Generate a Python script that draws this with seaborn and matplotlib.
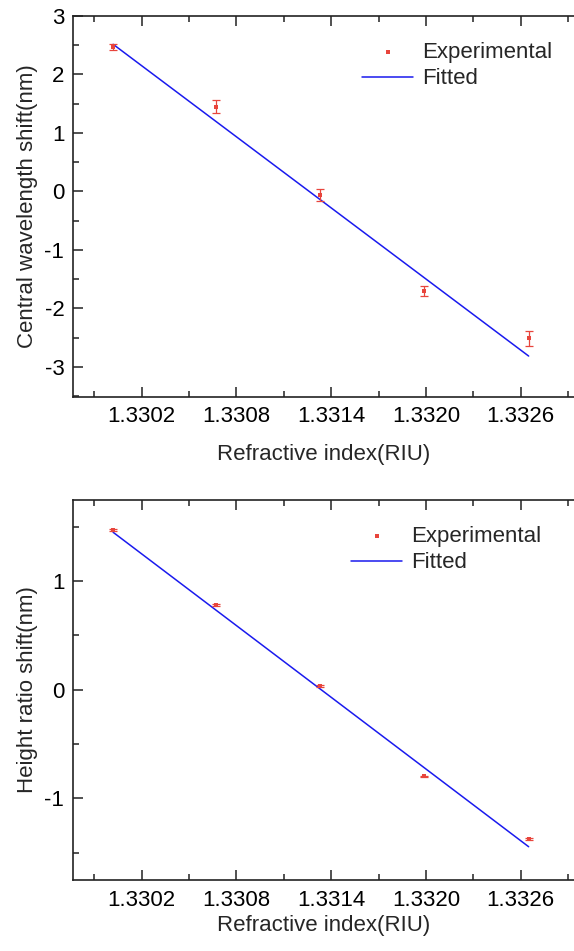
import numpy as np
import pandas as pd
import matplotlib
matplotlib.use("Agg")
import matplotlib.pyplot as plt
import seaborn as sns
from matplotlib.ticker import FixedLocator, MultipleLocator, FormatStrFormatter

# ---- data ----
ri = [1.33002, 1.33067, 1.33133, 1.33199, 1.33265]
wl_shift = [2.475, 1.448, -0.062, -1.705, -2.514]
wl_err = [0.05, 0.11, 0.11, 0.08, 0.13]
fit_x = [1.33002, 1.33265]
wl_fit = [2.516, -2.815]

hr_shift = [1.469, 0.776, 0.037, -0.797, -1.374]
hr_err = [0.01, 0.008, 0.008, 0.008, 0.008]
hr_fit = [1.448, -1.444]

xticks = [1.3302, 1.3308, 1.3314, 1.3320, 1.3326]
wl_yticks = [-3, -2, -1, 0, 1, 2, 3]
hr_yticks = [-1, 0, 1]

sns.set_theme(style="ticks")
plt.rcParams['font.family'] = ['Liberation Sans', 'DejaVu Sans']
plt.rcParams['axes.unicode_minus'] = False

RED = "#e8453c"
BLUE = "#1a1aee"

fig = plt.figure(figsize=(5.74, 9.51), dpi=100)
ax1 = fig.add_axes([72.7/574, 1-396.7/951, 1-72.7/574, (396.7-16)/951])
ax2 = fig.add_axes([72.7/574, 1-880/951, 1-72.7/574, (880-500)/951])

def panel(ax, yvals, yerr, fit, ylim, yticks, ylabel, xlabelpad, legend_anchor):
    df = pd.DataFrame({"x": ri, "y": yvals})
    dfit = pd.DataFrame({"x": fit_x, "y": fit})
    sns.lineplot(data=dfit, x="x", y="y", ax=ax, color=BLUE, lw=1.1, label="Fitted")
    ax.errorbar(ri, yvals, yerr=yerr, fmt="none", ecolor=RED, elinewidth=0.9,
                capsize=3.2, capthick=0.9)
    sns.scatterplot(data=df, x="x", y="y", ax=ax, color=RED, marker="s", s=5,
                    linewidth=0, label="Experimental", zorder=5)
    ax.set_xlim(1.329764, 1.332937)
    ax.set_ylim(*ylim)
    ax.xaxis.set_major_locator(FixedLocator(xticks))
    ax.xaxis.set_minor_locator(MultipleLocator(0.0003))
    ax.xaxis.set_major_formatter(FormatStrFormatter("%.4f"))
    ax.yaxis.set_major_locator(FixedLocator(yticks))
    ax.yaxis.set_minor_locator(MultipleLocator(0.5))
    ax.tick_params(axis="both", which="both", direction="in", top=True, right=False,
                   colors="#222222", labelcolor="black", labelsize=16)
    ax.tick_params(axis="both", which="major", length=7, width=1.1)
    ax.tick_params(axis="both", which="minor", length=4, width=1.1)
    ax.tick_params(axis="x", which="major", pad=7)
    ax.tick_params(axis="y", which="major", pad=6)
    for s in ["left", "bottom", "top"]:
        ax.spines[s].set_color("#222222")
        ax.spines[s].set_linewidth(1.2)
    ax.spines["right"].set_visible(False)
    ax.set_xlabel("Refractive index(RIU)", fontsize=16, labelpad=xlabelpad)
    ax.set_ylabel(ylabel, fontsize=16, labelpad=5)
    h, l = ax.get_legend_handles_labels()
    order = [l.index("Experimental"), l.index("Fitted")]
    ax.legend([h[i] for i in order], [l[i] for i in order], loc="upper right",
              bbox_to_anchor=legend_anchor, bbox_transform=fig.transFigure,
              frameon=False, fontsize=16, handlelength=2.3, handletextpad=0.4,
              labelspacing=0.25, borderaxespad=0, markerscale=1.1)

panel(ax1, wl_shift, wl_err, wl_fit, (-3.51, 3.0), wl_yticks,
      "Central wavelength shift(nm)", 12, (561/574, 1-33/951))
panel(ax2, hr_shift, hr_err, hr_fit, (-1.75, 1.745), hr_yticks,
      "Height ratio shift(nm)", 3, (550/574, 1-517/951))

fig.savefig("out.png", dpi=100)
